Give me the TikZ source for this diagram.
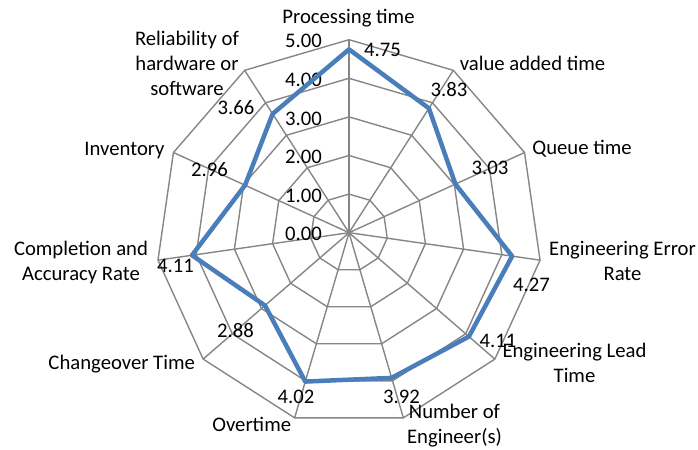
\documentclass[tikz,border=0pt]{standalone}
\usepackage{fontspec}
\setmainfont{Carlito}
\usetikzlibrary{calc}
\definecolor{gridgray}{HTML}{868686}
\definecolor{seriesblue}{HTML}{4A7EBB}
\newcommand\chartfont{\fontsize{20.7bp}{25bp}\selectfont}
\begin{document}
\begin{tikzpicture}[x=1bp,y=1bp,
  grid/.style={draw=gridgray, line width=1.4bp, line join=miter},
  series/.style={draw=seriesblue, line width=4.5bp, line join=round},
  lbl/.style={inner sep=0pt, font=\chartfont, text height=13.3bp, text depth=0pt},
  mlbl/.style={inner sep=0pt, font=\chartfont, align=center}]
\useasboundingbox (0,0) rectangle (698,450);
\coordinate (C) at (349,217.3);

% rings 1..5 of the 11-axis radar grid
\foreach \k in {1,...,5}{
  \draw[grid] ($(C)+(90:\k*38.6)$)
    \foreach \i in {1,...,10}{ -- ($(C)+(90-\i*360/11:\k*38.6)$) } -- cycle;
}
% spokes
\foreach \i in {0,...,10}{
  \coordinate (v\i) at ($(C)+(90-\i*360/11:193)$);
  \draw[grid] (C) -- (v\i);
}

% scale labels
\foreach \k in {0,...,5}{
  \node[lbl, anchor=east] (t\k) at ($(C)+(-27,\k*38.6-1.5)$) {\k.00};
}

% data series
\foreach \v [count=\i from 0] in {4.75,3.83,3.03,4.27,4.11,3.92,4.02,2.88,4.11,2.96,3.66}{
  \coordinate (d\i) at ($(C)+(90-\i*360/11:\v*38.6)$);
}
\draw[series] (d0) -- (d1) -- (d2) -- (d3) -- (d4) -- (d5) -- (d6)
  -- (d7) -- (d8) -- (d9) -- (d10) -- cycle;

% category labels
\node[lbl] (c0) at (348.5,432.7) {Processing time};
\node[lbl] (c1) at (532.5,386.5) {value added time};
\node[lbl] (c2) at (582,301.8) {Queue time};
\node[mlbl] (c3) at (622.5,189.3) {Engineering Error\\Rate};
\node[mlbl] (c4) at (574.5,86.7) {Engineering Lead\\Time};
\node[mlbl] (c5) at (454.5,24.3) {Number of\\Engineer(s)};
\node[lbl] (c6) at (251.7,25) {Overtime};
\node[lbl] (c7) at (121.7,87) {Changeover Time};
\node[mlbl] (c8) at (81,187.5) {Completion and\\Accuracy Rate};
\node[lbl] (c9) at (124.5,300.7) {Inventory};
\node[mlbl] (c10) at (187,386.7) {Reliability of\\hardware or\\software};

% value labels
\node[lbl] (l0) at (382.5,400) {4.75};
\node[lbl] (l1) at (449,360) {3.83};
\node[lbl] (l2) at (490,282) {3.03};
\node[lbl] (l3) at (531.5,165) {4.27};
\node[lbl] (l4) at (498,109) {4.11};
\node[lbl] (l5) at (401.5,53) {3.92};
\node[lbl] (l6) at (296,53) {4.02};
\node[lbl] (l7) at (235.5,119) {2.88};
\node[lbl] (l8) at (175.5,184) {4.11};
\node[lbl] (l9) at (209.5,280) {2.96};
\node[lbl] (l10) at (236,342) {3.66};
\end{tikzpicture}
\end{document}
